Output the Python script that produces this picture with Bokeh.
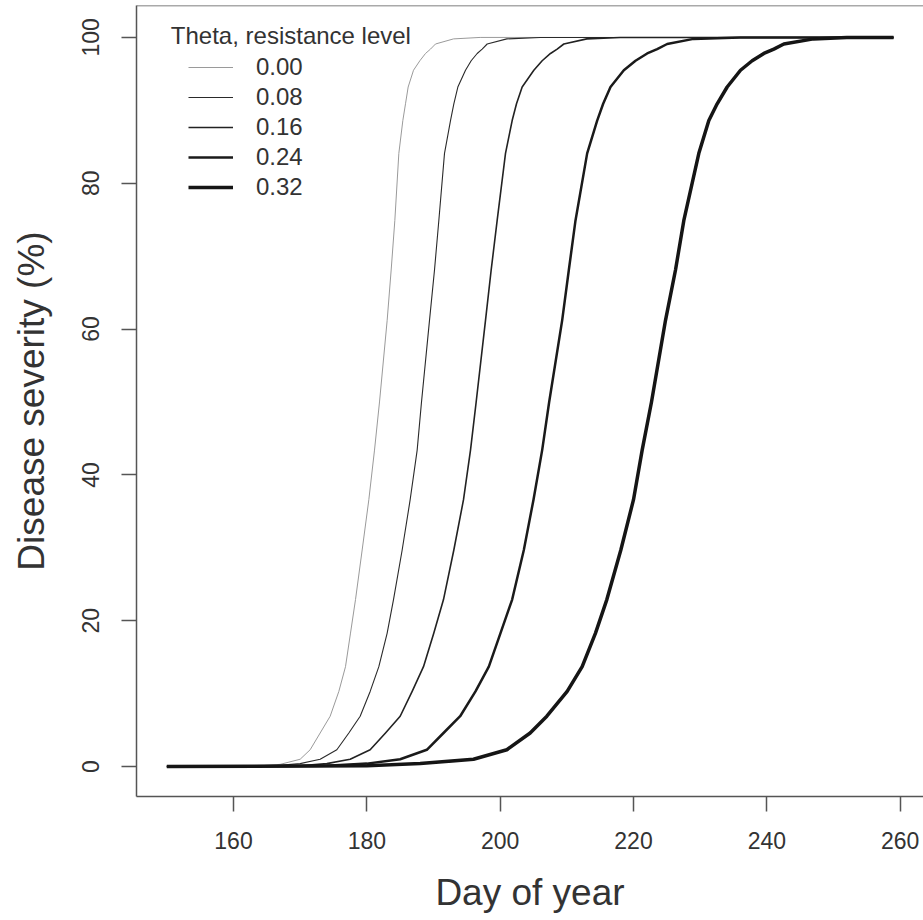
from bokeh.plotting import figure
from bokeh.models import Range1d, Legend, LegendItem, Label, Span, FixedTicker
from bokeh.embed import file_html
from bokeh.resources import INLINE

# ---- data ----
theta_labels = ["0.00", "0.08", "0.16", "0.24", "0.32"]

day_000 = [150, 164, 167, 170, 171.5, 173, 174.5, 175.8, 176.8, 177.55, 178.3, 179.3, 180.3, 181.15, 181.9,
           183.05, 183.65, 184.2, 184.8, 185.4, 185.8, 186.2, 187.0, 187.95, 188.8, 189.55, 190.3, 193, 197, 259]
sev_000 = [0, 0.1, 0.3, 1.0, 2.3, 4.6, 6.9, 10.3, 13.7, 18.3, 22.9, 29.7, 36.6, 43.4, 50.0,
           61.2, 68.1, 74.9, 84.1, 88.6, 90.9, 93.2, 95.5, 96.8, 97.8, 98.4, 99.1, 99.8, 100, 100]

day_008 = [150, 166, 170, 173, 175.5, 177.3, 179, 180.5, 181.8, 183.05, 184, 185.3, 186.5, 187.55, 188.2,
           189.4, 190.15, 190.8, 191.65, 192.55, 193.05, 193.65, 194.8, 195.65, 196.55, 197.3, 198.05, 201, 206, 259]
sev_008 = [0, 0.1, 0.4, 1.0, 2.3, 4.6, 6.9, 10.3, 13.7, 18.3, 22.9, 29.7, 36.6, 43.4, 50.0,
           61.2, 68.1, 74.9, 84.1, 88.6, 90.9, 93.2, 95.5, 96.8, 97.8, 98.4, 99.1, 99.8, 100, 100]

day_016 = [150, 170, 174, 177.5, 180.5, 182.8, 185, 186.8, 188.5, 190.05, 191.5, 193.05, 194.5, 195.55, 196.4,
           197.8, 198.65, 199.55, 200.8, 201.8, 202.45, 203.3, 205.05, 206.3, 207.55, 208.55, 209.55, 213, 218, 259]
sev_016 = [0, 0.1, 0.4, 1.0, 2.3, 4.6, 6.9, 10.3, 13.7, 18.3, 22.9, 29.7, 36.6, 43.4, 50.0,
           61.2, 68.1, 74.9, 84.1, 88.6, 90.9, 93.2, 95.5, 96.8, 97.8, 98.4, 99.1, 99.8, 100, 100]

day_024 = [150, 174, 180, 185, 189, 191.5, 194, 196.3, 198.3, 200.05, 201.8, 203.55, 205, 206.3, 207.35,
           209.3, 210.3, 211.3, 213.05, 214.55, 215.45, 216.55, 218.55, 220.3, 222.05, 223.55, 225.05, 229, 236, 259]
sev_024 = [0, 0.1, 0.4, 1.0, 2.3, 4.6, 6.9, 10.3, 13.7, 18.3, 22.9, 29.7, 36.6, 43.4, 50.0,
           61.2, 68.1, 74.9, 84.1, 88.6, 90.9, 93.2, 95.5, 96.8, 97.8, 98.4, 99.1, 99.8, 100, 100]

day_032 = [150, 180, 188, 196, 201, 204.5, 207, 210.05, 212.3, 214.3, 216, 218.1, 220, 221.3, 222.7,
           224.8, 226.3, 227.55, 229.8, 231.3, 232.55, 234.05, 236.05, 237.8, 239.55, 241.05, 242.55, 247, 252, 259]
sev_032 = [0, 0.1, 0.4, 1.0, 2.3, 4.6, 6.9, 10.3, 13.7, 18.3, 22.9, 29.7, 36.6, 43.4, 50.0,
           61.2, 68.1, 74.9, 84.1, 88.6, 90.9, 93.2, 95.5, 96.8, 97.8, 98.4, 99.1, 99.8, 100, 100]

x_ticks = [160, 180, 200, 220, 240, 260]
y_ticks = [0, 20, 40, 60, 80, 100]

series_days = [day_000, day_008, day_016, day_024, day_032]
series_sev = [sev_000, sev_008, sev_016, sev_024, sev_032]

# ---- styles ----
line_colors = ["#9a9a9a", "#2a2a2a", "#222222", "#1a1a1a", "#151515"]
line_widths = [1.0, 1.1, 1.6, 2.5, 3.5]
FONT = "Liberation Sans"
TXT = "#333333"
AX = "#555555"

p = figure(width=923, height=915, output_backend="svg", toolbar_location=None,
           x_range=Range1d(145.45, 263.5), y_range=Range1d(-4.11, 104.38),
           min_border_left=136, min_border_right=0, min_border_top=5, min_border_bottom=10)
p.outline_line_color = None
p.grid.visible = False
p.background_fill_color = "white"
p.border_fill_color = "white"

renderers = []
for d, s, c, w in zip(series_days, series_sev, line_colors, line_widths):
    r = p.line(d, s, line_color=c, line_width=w, line_join="round")
    renderers.append(r)

# top edge of the box
p.add_layout(Span(location=p.y_range.end, dimension="width", line_color=AX, line_width=1.5))

for ax in (p.xaxis[0], p.yaxis[0]):
    ax.axis_line_color = AX
    ax.axis_line_width = 1.5
    ax.major_tick_line_color = AX
    ax.major_tick_line_width = 1.5
    ax.major_tick_out = 15
    ax.major_tick_in = 0
    ax.minor_tick_line_color = None
    ax.major_label_text_font = FONT
    ax.major_label_text_font_size = "23px"
    ax.major_label_text_color = TXT
    ax.axis_label_text_font = FONT
    ax.axis_label_text_font_size = "37px"
    ax.axis_label_text_font_style = "normal"
    ax.axis_label_text_color = TXT

p.xaxis.ticker = FixedTicker(ticks=x_ticks)
p.yaxis.ticker = FixedTicker(ticks=y_ticks)
p.xaxis.axis_label = "Day of year"
p.yaxis.axis_label = "Disease severity (%)"
p.xaxis.major_label_standoff = 20
p.xaxis.axis_label_standoff = 20
p.yaxis.major_label_orientation = "vertical"
p.yaxis.major_label_standoff = 22
p.yaxis.axis_label_standoff = 28

legend = Legend(items=[LegendItem(label=lab, renderers=[r]) for lab, r in zip(theta_labels, renderers)],
                location=(52, 594), orientation="vertical",
                label_text_font=FONT, label_text_font_size="24px", label_text_color=TXT,
                glyph_width=45, glyph_height=30, label_height=30, label_standoff=23,
                spacing=0, padding=0, margin=0,
                border_line_color=None, background_fill_alpha=0)
p.add_layout(legend)

p.add_layout(Label(x=150.6, y=100.3, text="Theta, resistance level", text_font=FONT,
                   text_font_size="24px", text_color=TXT, text_baseline="middle", text_align="left"))

open("out.html", "w").write(file_html(p, INLINE))
